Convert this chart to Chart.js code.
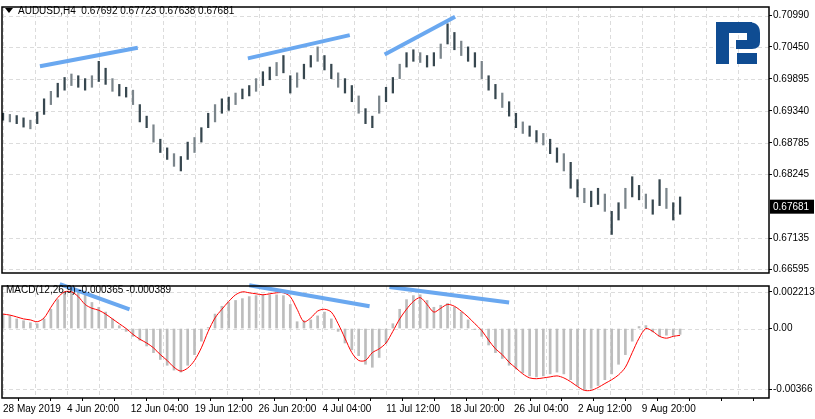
<!DOCTYPE html>
<html>
<head>
<meta charset="utf-8">
<script src="https://cdn.jsdelivr.net/npm/chart.js@4/dist/chart.umd.min.js"></script>
<style>
  body { margin: 0; background: #fff; width: 815px; height: 419px; overflow: hidden; }
  .pane { position: absolute; left: 0; width: 815px; }
</style>
</head>
<body>
<div class="pane" style="top:0;height:280px"><canvas id="price"></canvas></div>
<div class="pane" style="top:279px;height:140px"><canvas id="macd"></canvas></div>
<script>
// price bars (H4), low / high per bar
const lows = [0.6918,0.6915,0.6912,0.6906,0.6903,0.6912,0.6928,0.6945,0.6958,0.6970,
  0.6978,0.6975,0.6970,0.6975,0.6985,0.6980,0.6968,0.6960,0.6958,0.6945,
  0.6915,0.6905,0.6880,0.6862,0.6850,0.6838,0.6830,0.6850,0.6862,0.6880,
  0.6905,0.6915,0.6930,0.6935,0.6945,0.6955,0.6960,0.6968,0.6978,0.6988,
  0.6995,0.7000,0.6965,0.6975,0.6990,0.7010,0.7020,0.7005,0.6990,0.6975,
  0.6965,0.6950,0.6930,0.6912,0.6905,0.6930,0.6950,0.6965,0.6990,0.7010,
  0.7020,0.7018,0.7010,0.7012,0.7025,0.7050,0.7040,0.7030,0.7020,0.7010,
  0.6990,0.6970,0.6955,0.6940,0.6925,0.6905,0.6895,0.6890,0.6880,0.6875,
  0.6860,0.6845,0.6830,0.6800,0.6785,0.6775,0.6768,0.6772,0.6760,0.6720,
  0.6745,0.6765,0.6785,0.6780,0.6765,0.6755,0.6770,0.6765,0.6745,0.6755];
const highs = [0.6930,0.6928,0.6926,0.6922,0.6918,0.6932,0.6955,0.6968,0.6982,0.6992,
  0.6998,0.6995,0.6990,0.6995,0.7020,0.7008,0.6990,0.6980,0.6975,0.6970,
  0.6945,0.6925,0.6910,0.6885,0.6870,0.6860,0.6855,0.6880,0.6888,0.6905,
  0.6930,0.6945,0.6955,0.6958,0.6965,0.6972,0.6978,0.6990,0.7002,0.7010,
  0.7018,0.7030,0.6995,0.7000,0.7015,0.7030,0.7045,0.7030,0.7015,0.7000,
  0.6990,0.6978,0.6960,0.6938,0.6925,0.6960,0.6975,0.6992,0.7015,0.7035,
  0.7040,0.7035,0.7030,0.7035,0.7050,0.7085,0.7070,0.7055,0.7045,0.7035,
  0.7020,0.6995,0.6980,0.6965,0.6950,0.6930,0.6915,0.6908,0.6900,0.6895,
  0.6885,0.6870,0.6860,0.6845,0.6815,0.6800,0.6795,0.6800,0.6790,0.6760,
  0.6775,0.6800,0.6820,0.6805,0.6790,0.6780,0.6815,0.6800,0.6775,0.6785];

// MACD(12,26,9)
const macdMain = [0.00087,0.00076,0.00058,0.00047,0.00035,0.00029,0.00058,0.00116,0.00174,0.00221,
  0.00233,0.00233,0.00203,0.00157,0.00128,0.00099,0.00058,0.00017,-0.00017,-0.00047,
  -0.00070,-0.00105,-0.00145,-0.00186,-0.00221,-0.00250,-0.00262,-0.00221,-0.00157,-0.00076,
  0.00006,0.00087,0.00134,0.00157,0.00169,0.00180,0.00192,0.00198,0.00203,0.00203,
  0.00203,0.00198,0.00145,0.00041,0.00047,0.00052,0.00076,0.00099,0.00058,-0.00017,
  -0.00087,-0.00128,-0.00163,-0.00215,-0.00233,-0.00174,-0.00087,0.00029,0.00116,0.00174,
  0.00198,0.00203,0.00169,0.00128,0.00140,0.00151,0.00128,0.00099,0.00052,-0.00006,
  -0.00047,-0.00099,-0.00145,-0.00180,-0.00221,-0.00244,-0.00267,-0.00285,-0.00291,-0.00285,
  -0.00273,-0.00262,-0.00273,-0.00308,-0.00343,-0.00366,-0.00360,-0.00343,-0.00308,-0.00273,
  -0.00215,-0.00157,-0.00076,0.00012,0.00018,-0.00020,-0.00047,-0.00040,-0.00041,-0.00035];
const macdSignal = [0.00087,0.00081,0.00070,0.00058,0.00052,0.00041,0.00064,0.00128,0.00186,0.00221,
  0.00221,0.00192,0.00145,0.00122,0.00110,0.00087,0.00058,0.00029,0.00000,-0.00035,
  -0.00064,-0.00087,-0.00116,-0.00157,-0.00192,-0.00233,-0.00256,-0.00238,-0.00192,-0.00116,
  -0.00017,0.00064,0.00116,0.00163,0.00203,0.00221,0.00215,0.00209,0.00203,0.00209,
  0.00215,0.00215,0.00192,0.00116,0.00041,0.00064,0.00105,0.00116,0.00099,0.00029,
  -0.00058,-0.00145,-0.00192,-0.00192,-0.00145,-0.00122,-0.00087,-0.00017,0.00058,0.00116,
  0.00163,0.00186,0.00145,0.00099,0.00122,0.00145,0.00134,0.00105,0.00070,0.00029,
  -0.00012,-0.00070,-0.00122,-0.00157,-0.00203,-0.00238,-0.00273,-0.00297,-0.00302,-0.00297,
  -0.00291,-0.00285,-0.00297,-0.00320,-0.00349,-0.00372,-0.00372,-0.00355,-0.00331,-0.00308,
  -0.00279,-0.00233,-0.00145,-0.00058,0.00000,-0.00017,-0.00047,-0.00058,-0.00047,-0.00041];

// divergence lines drawn on the chart: [x0, y0, x1, y1] in bar index / value
const priceLines = [[5.4,0.70115,19.7,0.70435],[35.8,0.70250,50.7,0.70654],[55.8,0.70317,66.1,0.70973]];
const macdLines = [[8.3,0.00267,18.5,0.00116],[36.0,0.00261,53.6,0.00134],[56.5,0.00250,74.0,0.00157]];

const dateLabels = ["28 May 2019","4 Jun 20:00","12 Jun 04:00","19 Jun 12:00","26 Jun 20:00","4 Jul 04:00",
  "11 Jul 12:00","18 Jul 20:00","26 Jul 04:00","2 Aug 12:00","9 Aug 20:00"];
const labelStep = 9.34;
const priceTicks = [0.70990,0.70450,0.69895,0.69340,0.68785,0.68245,0.67135,0.66595];
const lastPrice = 0.67681;
const macdTicks = [0.002213,0,-0.00366];
const macdTickLabels = ["0.002213","0.00","-0.00366"];

const FONT = {family: "'Liberation Sans', Arial, sans-serif", size: 10};
const FONTCSS = "10px 'Liberation Sans', Arial, sans-serif";

function xTicks(scale) {
  scale.ticks = [];
  for (let k = 0; k * labelStep / 2 < 112; k++) scale.ticks.push({value: k * labelStep / 2});
}
function lineSets(list) {
  return list.map(l => ({type: 'line', data: [{x: l[0], y: l[1]}, {x: l[2], y: l[3]}],
    borderColor: '#6aa8f0', borderWidth: 4, pointRadius: 0, clip: false, order: -1}));
}
const frame = {
  id: 'frame',
  beforeDraw(c) {
    const a = c.chartArea, g = c.ctx;
    g.save();
    g.setLineDash([4, 3]);
    g.strokeStyle = '#dcdcdc';
    g.lineWidth = 1;
    c.scales.x.ticks.forEach(t => {
      const x = Math.round(c.scales.x.getPixelForValue(t.value)) + 0.5;
      g.beginPath(); g.moveTo(x, a.top); g.lineTo(x, a.bottom); g.stroke();
    });
    c.scales.y.ticks.forEach(t => {
      const y = Math.round(c.scales.y.getPixelForValue(t.value)) + 0.5;
      g.beginPath(); g.moveTo(a.left, y); g.lineTo(a.right, y); g.stroke();
    });
    g.restore();
  },
  afterDraw(c) {
    const a = c.chartArea, g = c.ctx;
    g.save();
    g.strokeStyle = '#000'; g.lineWidth = 1.5;
    g.strokeRect(a.left, a.top, a.right - a.left, a.bottom - a.top);
    g.restore();
  }
};

const priceExtras = {
  id: 'priceExtras',
  afterDraw(c) {
    const g = c.ctx, a = c.chartArea;
    g.save();
    g.font = FONTCSS;
    g.fillStyle = '#000';
    g.beginPath(); g.moveTo(5, 8); g.lineTo(13, 8); g.lineTo(9, 13); g.closePath(); g.fill();
    g.textBaseline = 'middle';
    g.fillText('AUDUSD,H4  0.67692 0.67723 0.67638 0.67681', 18, 11);
    // last price box
    const y = c.scales.y.getPixelForValue(lastPrice);
    g.fillRect(a.right + 1, y - 7, 44, 14);
    g.fillStyle = '#fff';
    g.fillText(lastPrice.toFixed(5), a.right + 4, y + 0.5);
    // logo
    g.fillStyle = '#0f4c92';
    g.fillRect(716, 22, 13, 42);
    g.fillRect(716, 22, 36, 11);
    g.beginPath();
    g.moveTo(748, 22); g.quadraticCurveTo(760, 22, 760, 33);
    g.lineTo(760, 42); g.quadraticCurveTo(760, 49, 752, 49);
    g.lineTo(736, 49); g.lineTo(736, 40); g.lineTo(747, 40); g.lineTo(747, 33); g.lineTo(748, 33); g.closePath();
    g.fill();
    g.fillRect(737, 53, 20, 11);
    g.restore();
  }
};
const macdExtras = {
  id: 'macdExtras',
  afterDraw(c) {
    const g = c.ctx;
    g.save();
    g.font = FONTCSS;
    g.fillStyle = '#000';
    g.textBaseline = 'middle';
    g.fillText('MACD(12,26,9) -0.000365 -0.000389', 6, 11);
    g.restore();
  }
};

const idx = lows.map((_, i) => i);

new Chart(document.getElementById('price'), {
  type: 'bar',
  data: {
    datasets: [{
      data: idx.map(i => ({x: i, y: [lows[i], highs[i]]})),
      backgroundColor: idx.map(i => i % 3 === 1 ? '#7b858b' : '#37474f'),
      barThickness: 1.6
    }, ...lineSets(priceLines)]
  },
  options: {
    responsive: true, maintainAspectRatio: false, animation: false,
    layout: {padding: {left: 2, top: 3, right: 0, bottom: 2}},
    plugins: {legend: {display: false}, tooltip: {enabled: false}},
    scales: {
      x: {type: 'linear', min: -0.15, max: 112, offset: false,
        afterBuildTicks: xTicks,
        ticks: {display: false},
        grid: {display: false, drawTicks: false}, border: {display: false}},
      y: {position: 'right', min: 0.66532, max: 0.71141,
        afterBuildTicks: s => { s.ticks = priceTicks.map(v => ({value: v})); },
        afterFit: s => { s.width = 46; },
        ticks: {font: FONT, color: '#000', padding: 1, callback: v => v.toFixed(5)},
        grid: {display: true, drawOnChartArea: false, tickColor: '#000', tickLength: 3},
        border: {display: false}}
    }
  },
  plugins: [frame, priceExtras]
});

new Chart(document.getElementById('macd'), {
  type: 'bar',
  data: {
    datasets: [{
      type: 'line', data: idx.map(i => ({x: i, y: macdSignal[i]})),
      borderColor: '#ff0000', borderWidth: 1, pointRadius: 0, tension: 0.3, order: 0
    }, {
      data: idx.map(i => ({x: i, y: macdMain[i]})),
      backgroundColor: '#bdbdbd', barThickness: 2, order: 1
    }, ...lineSets(macdLines)]
  },
  options: {
    responsive: true, maintainAspectRatio: false, animation: false,
    layout: {padding: {left: 2, top: 2, right: 0, bottom: 2}},
    plugins: {legend: {display: false}, tooltip: {enabled: false}},
    scales: {
      x: {type: 'linear', min: -0.15, max: 112, offset: false,
        afterBuildTicks: xTicks,
        ticks: {font: FONT, color: '#000', align: 'start', maxRotation: 0, autoSkip: false, padding: 2,
          callback: (v, i) => i % 2 === 0 ? (dateLabels[i / 2] || '') : ''},
        grid: {display: true, drawOnChartArea: false, tickColor: '#000', tickLength: 3},
        border: {display: false}},
      y: {position: 'right', min: -0.00418, max: 0.00256,
        afterBuildTicks: s => { s.ticks = macdTicks.map(v => ({value: v})); },
        afterFit: s => { s.width = 46; },
        ticks: {font: FONT, color: '#000', padding: 1, callback: (v, i) => macdTickLabels[i]},
        grid: {display: true, drawOnChartArea: false, tickColor: '#000', tickLength: 3},
        border: {display: false}}
    }
  },
  plugins: [frame, macdExtras]
});
</script>
</body>
</html>
